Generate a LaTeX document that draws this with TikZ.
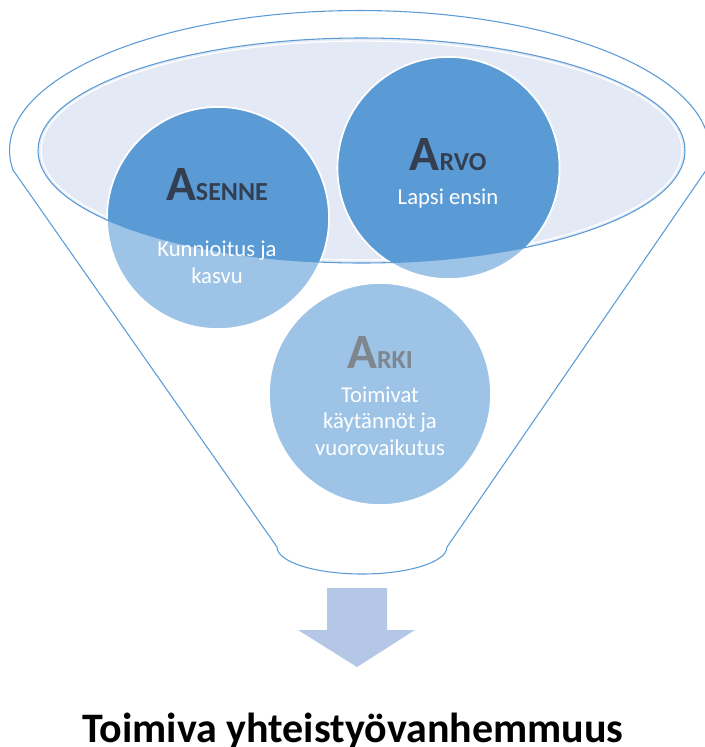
\documentclass[tikz,border=0pt]{standalone}
\usepackage{fontspec}
\setmainfont{Carlito}
\usetikzlibrary{positioning,calc}

\definecolor{rimline}{HTML}{5B9BD5}
\definecolor{rimfill}{HTML}{E3EAF5}
\definecolor{darkdisc}{HTML}{5B9BD5}
\definecolor{lightdisc}{HTML}{9DC3E6}
\definecolor{headnavy}{HTML}{333F50}
\definecolor{headgray}{HTML}{7F868E}
\definecolor{arrowblue}{HTML}{B4C7E7}

\begin{document}
\begin{tikzpicture}[
        x=0.75pt, y=-0.75pt,
        % Shape styles
        rim/.style={draw=rimline, line width=0.8pt},
        disc/.style={
            circle,
            draw=white,
            line width=1.2pt,
            minimum size=166.5pt,
            inner sep=0pt,
            fill=#1
        },
        % Text styles
        head/.style={anchor=base, text=#1, font=\bfseries},
        body/.style={anchor=base, text=white, align=center,
            font=\fontsize{17}{19.8}\selectfont},
        title/.style={anchor=base, text=black,
            font=\fontsize{31.5}{36}\selectfont\bfseries}
    ]
    \useasboundingbox (0,0) rectangle (705,747);

    % Funnel
    \draw[rim] (13,170) arc[start angle=172, end angle=368, x radius=350, y radius=140]
        -- (447,547) arc[start angle=0, end angle=180, x radius=85, y radius=27] -- cycle;

    % Rim
    \fill[rimfill] (361.5,150.5) ellipse [x radius=323.5, y radius=112.5];
    \draw[white, line width=1pt] (361.5,150.5) ellipse [x radius=320.5, y radius=109.5];

    % Discs
    \node[disc=lightdisc] (asenne) at (218,218) {};
    \node[disc=lightdisc] (arvo) at (448.5,168) {};
    \node[disc=lightdisc] (arki) at (380,394) {};

    % Discs inside the rim
    \begin{scope}
        \clip (361.5,150.5) ellipse [x radius=323.5, y radius=112.5];
        \fill[darkdisc, draw=white, line width=1.2pt] (asenne.center) circle (111);
        \fill[darkdisc, draw=white, line width=1.2pt] (arvo.center) circle (111);
    \end{scope}
    \draw[rim] (361.5,150.5) ellipse [x radius=323.5, y radius=112.5];

    % Texts (base = last line)
    \node[head=headnavy] (asenneHead) at (217,200)
        {{\fontsize{37}{40}\selectfont A}\fontsize{19.5}{22}\selectfont SENNE};
    \node[body] (asenneText) at (217,283) {Kunnioitus ja\\kasvu};

    \node[head=headnavy] (arvoHead) at (448,170)
        {{\fontsize{37}{40}\selectfont A}\fontsize{19.5}{22}\selectfont RVO};
    \node[body] (arvoText) at (448,204) {Lapsi ensin};

    \node[head=headgray] (arkiHead) at (380,368)
        {{\fontsize{37}{40}\selectfont A}\fontsize{19.5}{22}\selectfont RKI};
    \node[body] (arkiText) at (380,455) {Toimivat\\käytännöt ja\\vuorovaikutus};

    % Arrow
    \fill[arrowblue] (327,588) -- (387,588) -- (387,630) -- (415,630)
        -- (357,667) -- (298,630) -- (327,630) -- cycle;

    % Result
    \node[title] (result) at (353,742) {Toimiva yhteistyövanhemmuus};

\end{tikzpicture}
\end{document}
